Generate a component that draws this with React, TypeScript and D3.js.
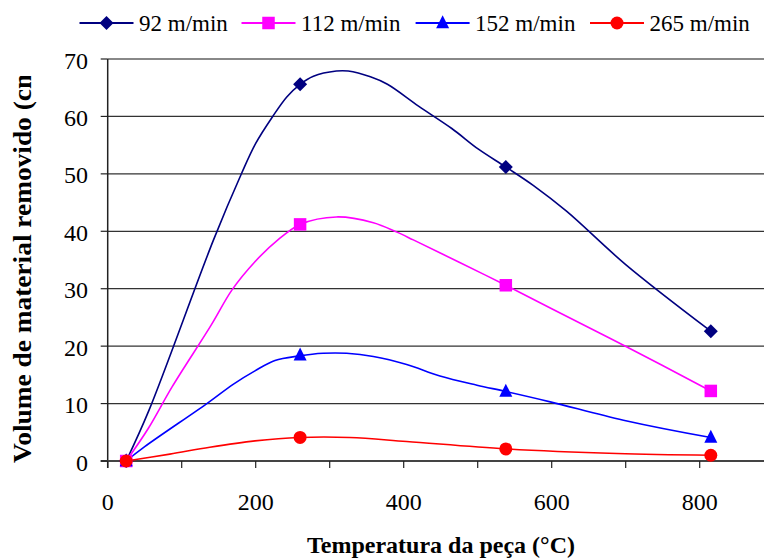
import React from "react";
import * as d3 from "d3";

// ---- data ----
const seriesNames = ["92 m/min", "112 m/min", "152 m/min", "265 m/min"];
const seriesColors = ["#000080", "#FF00FF", "#0000FF", "#FF0000"];
const seriesShapes = ["diamond", "square", "triangle", "circle"];

// measured temperatures (marker positions)
const markerTemps = [25, 260, 538, 815];
const marker92 = [0, 65.6, 51.2, 22.6];
const marker112 = [0, 41.2, 30.6, 12.2];
const marker152 = [0, 18.4, 12.1, 4.1];
const marker265 = [0, 4.1, 2.1, 1.0];

// traced curve points
const curveTemp92 = [25, 56, 143, 181, 200, 223, 242, 260, 278, 309, 325, 355, 378, 420, 465, 501, 538, 575, 620, 700, 815];
const curveVal92 = [0, 8.9, 38.5, 50.1, 55.3, 60, 63.4, 65.6, 67, 67.9, 67.9, 66.9, 65.6, 61.8, 57.9, 54.3, 51.2, 48, 43.5, 34.2, 22.6];
const curveTemp112 = [25, 55, 87, 140, 168, 199, 230, 260, 309, 359, 390, 413, 475, 538, 600, 701, 815];
const curveVal112 = [0, 5.7, 12.9, 23.7, 29.8, 34.7, 38.5, 41.2, 42.5, 41.5, 39.9, 38.5, 34.6, 30.6, 26.5, 19.9, 12.2];
const curveTemp152 = [25, 50, 134, 170, 199, 226, 259, 291, 323, 359, 404, 449, 499, 538, 598, 697, 815];
const curveVal152 = [0, 2.5, 10, 13.4, 15.7, 17.5, 18.3, 18.75, 18.75, 18.2, 16.8, 14.8, 13.2, 12.1, 10.3, 7.1, 4.1];
const curveTemp265 = [25, 84, 138, 199, 259, 327, 404, 538, 688, 815];
const curveVal265 = [0, 1.2, 2.4, 3.5, 4.1, 4.1, 3.4, 2.1, 1.3, 1.0];

const xTicks = [0, 100, 200, 300, 400, 500, 600, 700, 800, 900];
const xLabels = [0, 200, 400, 600, 800];
const yTicks = [0, 10, 20, 30, 40, 50, 60, 70];

const xTitle = "Temperatura da peça (°C)";
const yTitle = "Volume de material removido (cm³)";

const W = 764;
const H = 558;
const left = 107.7;
const right = 773.7;
const top = 59;
const bottom = 461;
const FONT = "Liberation Serif";
const TXT = { fontFamily: FONT };
const legendStarts = [79.5, 241.5, 415.6, 590];

function Marker({ shape, x, y, color }: { shape: string; x: number; y: number; color: string }) {
  if (shape === "diamond") {
    const r = 7;
    return <path d={`M${x},${y - r}L${x + r},${y}L${x},${y + r}L${x - r},${y}Z`} fill={color} />;
  }
  if (shape === "square") {
    const s = 12.5;
    return <rect x={x - s / 2} y={y - s / 2} width={s} height={s} fill={color} />;
  }
  if (shape === "triangle") {
    const s = 13;
    return <path d={`M${x},${y - s * 0.6}L${x + s / 2},${y + s * 0.4}L${x - s / 2},${y + s * 0.4}Z`} fill={color} />;
  }
  return <circle cx={x} cy={y} r={6.5} fill={color} />;
}

export default function App() {
  const x = d3.scaleLinear().domain([0, 900]).range([left, right]);
  const y = d3.scaleLinear().domain([0, 70]).range([bottom, top]);

  const curves = [
    { t: curveTemp92, v: curveVal92, m: marker92 },
    { t: curveTemp112, v: curveVal112, m: marker112 },
    { t: curveTemp152, v: curveVal152, m: marker152 },
    { t: curveTemp265, v: curveVal265, m: marker265 },
  ];

  const line = d3
    .line<[number, number]>()
    .x((d) => x(d[0]))
    .y((d) => y(d[1]))
    .curve(d3.curveCatmullRom.alpha(0.5));

  const legendY = 23;

  return (
    <svg width={W} height={H} style={{ position: "absolute", left: 0, top: 0, background: "#fff" }}>
      <defs>
        <clipPath id="ytclip">
          <rect x={0} y={76} width={60} height={H} />
        </clipPath>
      </defs>
      <rect x={0} y={0} width={W} height={H} fill="#fff" />

      {/* gridlines */}
      {yTicks.slice(1, -1).map((t) => (
        <line key={t} x1={left} x2={right} y1={y(t)} y2={y(t)} stroke="#333" strokeWidth={1.2} />
      ))}
      {/* plot area top border */}
      <line x1={left} x2={right} y1={top} y2={top} stroke="#888" strokeWidth={2} />

      {/* axes */}
      <line x1={left} x2={left} y1={top} y2={bottom + 7} stroke="#222" strokeWidth={1.5} />
      <line x1={left - 7} x2={right} y1={bottom} y2={bottom} stroke="#444" strokeWidth={1.8} />
      {yTicks.map((t) => (
        <g key={t}>
          <line x1={left - 7} x2={left} y1={y(t)} y2={y(t)} stroke="#222" strokeWidth={1.2} />
          <text x={88} y={y(t) + 9.5} textAnchor="end" fontSize={24} fill="#000" style={TXT}>
            {t}
          </text>
        </g>
      ))}
      {xTicks.map((t) => (
        <line key={t} x1={x(t)} x2={x(t)} y1={bottom} y2={bottom + 7} stroke="#222" strokeWidth={1.2} />
      ))}
      {xLabels.map((t) => (
        <text key={t} x={x(t)} y={510} textAnchor="middle" fontSize={24} fill="#000" style={TXT}>
          {t}
        </text>
      ))}

      {/* series */}
      {curves.map((c, i) => (
        <path
          key={i}
          d={line(c.t.map((tt, k) => [tt, c.v[k]] as [number, number])) || ""}
          fill="none"
          stroke={seriesColors[i]}
          strokeWidth={1.6}
        />
      ))}
      {curves.map((c, i) => (
        <g key={i}>
          {markerTemps.map((tt, k) => (
            <Marker key={k} shape={seriesShapes[i]} x={x(tt)} y={y(c.m[k])} color={seriesColors[i]} />
          ))}
        </g>
      ))}

      {/* axis titles */}
      <text x={441} y={553} textAnchor="middle" fontSize={24} fontWeight="bold" fill="#000" style={TXT}>
        {xTitle}
      </text>
      <g clipPath="url(#ytclip)">
        <text
          transform={`translate(31,463) rotate(-90)`}
          textAnchor="start"
          fontSize={25}
          fontWeight="bold"
          fill="#000"
          textLength={414}
          lengthAdjust="spacingAndGlyphs"
          style={TXT}
        >
          {yTitle}
        </text>
      </g>

      {/* legend */}
      {seriesNames.map((name, i) => (
        <g key={i}>
          <line x1={legendStarts[i]} x2={legendStarts[i] + 54} y1={legendY} y2={legendY} stroke={seriesColors[i]} strokeWidth={2} />
          <Marker shape={seriesShapes[i]} x={legendStarts[i] + 27} y={legendY} color={seriesColors[i]} />
          <text x={legendStarts[i] + 59.5} y={legendY + 8} fontSize={23} fill="#000" style={TXT}>
            {name}
          </text>
        </g>
      ))}
    </svg>
  );
}
